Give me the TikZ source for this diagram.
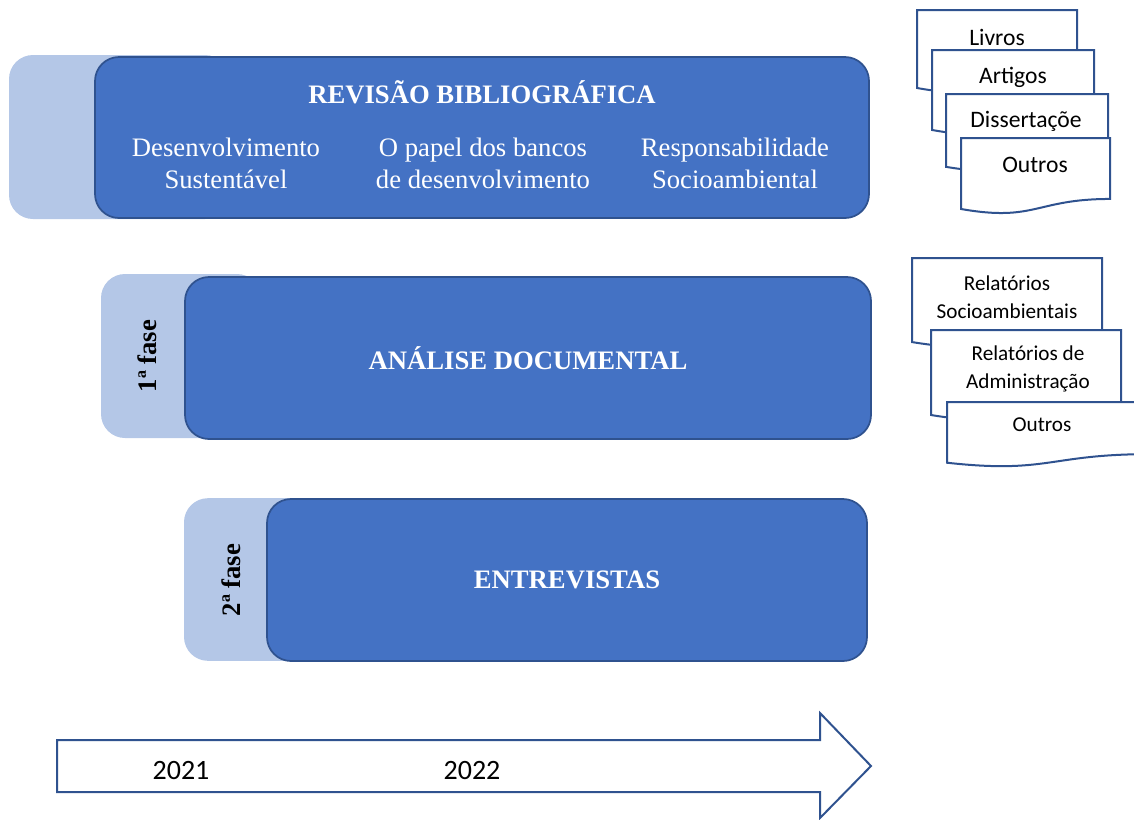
\documentclass[tikz,border=0pt]{standalone}
\usepackage{fontspec}
\setmainfont{Liberation Serif}
\newfontfamily\calib{Carlito}
\definecolor{front}{HTML}{4472C4}
\definecolor{edge}{HTML}{2F528F}
\definecolor{light}{HTML}{B4C7E7}
\begin{document}
\begin{tikzpicture}[x=0.75pt,y=-0.75pt,
  lightbox/.style={rectangle,rounded corners=18pt,fill=light,draw=none,inner sep=0pt},
  frontbox/.style={rectangle,rounded corners=18pt,fill=front,draw=edge,line width=1.3pt,inner sep=0pt},
  title/.style={font=\fontsize{20}{24}\selectfont\bfseries,text=white},
  sub/.style={font=\fontsize{20}{24.5}\selectfont,text=white,align=center},
  phase/.style={font=\fontsize{20}{24}\selectfont\bfseries,text=black,rotate=90},
  docline/.style={draw=edge,line width=1.5pt,fill=white},
  doctxt/.style={font=\calib\fontsize{17.7}{21}\selectfont,align=center},
  doctxtb/.style={font=\calib\fontsize{15.9}{21}\selectfont,align=center},
  year/.style={font=\calib\fontsize{21}{24}\selectfont}]
\useasboundingbox (0,0) rectangle (1134,819);
\newcommand{\docpage}[4]{% x1, x2, top, height
  \pgfmathsetmacro{\yr}{#3+0.802*#4}
  \pgfmathsetmacro{\yc}{#3+1.107*#4}
  \pgfmathsetmacro{\yl}{#3+0.934*#4}
  \pgfmathsetmacro{\xm}{(#1+#2)/2}
  \draw[docline] (#1,#3) -- (#2,#3) -- (#2,\yr) .. controls (\xm,\yr) and (\xm,\yc) .. (#1,\yl) -- cycle;}

% Box 1
\node[lightbox,minimum width=165pt,minimum height=123pt] (l1) at (119,137) {};
\node[frontbox,minimum width=580.5pt,minimum height=120.75pt] (f1) at (482,137.5) {};
\node[title] (t1) at (482,92) {REVISÃO BIBLIOGRÁFICA};
\node[sub] (s1) at (226,163.5) {Desenvolvimento\\Sustentável};
\node[sub] (s2) at (483,163.5) {O papel dos bancos\\de desenvolvimento};
\node[sub] (s3) at (735,163.5) {Responsabilidade\\Socioambiental};

% Box 2
\node[lightbox,minimum width=120pt,minimum height=123pt] (l2) at (181,356) {};
\node[frontbox,minimum width=514.5pt,minimum height=121.5pt] (f2) at (528,358) {};
\node[title] (t2) at (528,358) {ANÁLISE DOCUMENTAL};
\node[phase] (p1) at (147,356) {1ª fase};

% Box 3
\node[lightbox,minimum width=120pt,minimum height=122pt] (l3) at (264,579.5) {};
\node[frontbox,minimum width=450pt,minimum height=121.5pt] (f3) at (567,580) {};
\node[title] (t3) at (567,580) {ENTREVISTAS};
\node[phase] (p2) at (231,580) {2ª fase};

% Timeline arrow
\draw[edge,line width=1.5pt,fill=white] (57,740) -- (820,740) -- (820,713) -- (871,766) -- (820,818) -- (820,792) -- (57,792) -- cycle;
\node[year] (y1) at (181,770) {2021};
\node[year] (y2) at (472,770) {2022};

% Document stack (top)
\docpage{917}{1077}{10}{83.5}
\node[doctxt] (d1) at (997,37) {Livros};
\docpage{932}{1094}{50}{85.6}
\node[doctxt] (d2) at (1013,77) {Artigos};
\docpage{946}{1108}{94}{78}
\node[doctxt] (d3) at (1026,121) {Dissertaçõe};
\docpage{961}{1110}{138}{76}
\node[doctxt] (d4) at (1035,165) {Outros};

% Document stack (bottom)
\docpage{912}{1102}{258}{90}
\node[doctxtb] (e1) at (1007,297) {Relatórios\\Socioambientais};
\docpage{931}{1121}{330}{91}
\node[doctxtb] (e2) at (1028,369) {Relatórios de\\Administração};
\docpage{947}{1150}{402}{65}
\node[doctxtb] (e3) at (1042,425) {Outros};
\end{tikzpicture}
\end{document}
